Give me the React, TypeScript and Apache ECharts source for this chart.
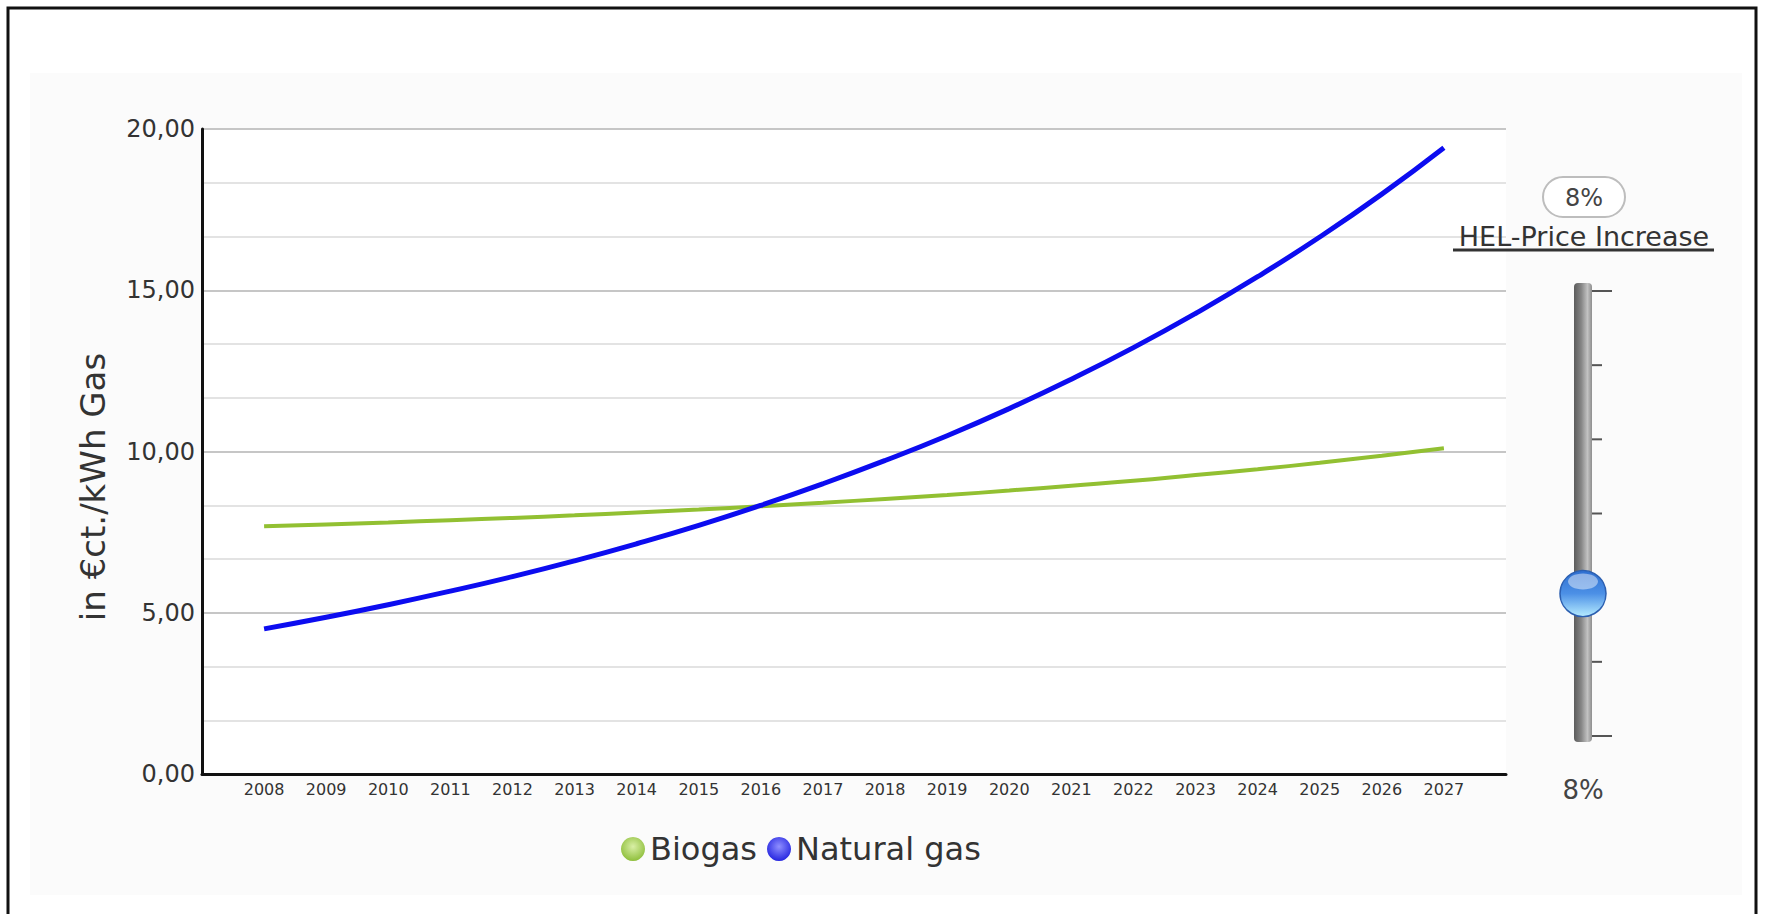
import React, { useEffect, useRef } from "react";
import * as echarts from "echarts";

// Years shown on the x axis
const years = [2008, 2009, 2010, 2011, 2012, 2013, 2014, 2015, 2016, 2017, 2018, 2019, 2020, 2021, 2022, 2023, 2024, 2025, 2026, 2027];

// Price in €ct. per kWh of gas
const biogas = [7.68, 7.74, 7.8, 7.87, 7.94, 8.02, 8.11, 8.2, 8.3, 8.41, 8.53, 8.65, 8.79, 8.94, 9.09, 9.27, 9.45, 9.65, 9.87, 10.1];
const naturalGas = [4.5, 4.86, 5.25, 5.67, 6.12, 6.61, 7.14, 7.71, 8.33, 9.0, 9.72, 10.49, 11.33, 12.24, 13.22, 14.28, 15.42, 16.65, 17.98, 19.42];

const seriesNames = ["Biogas", "Natural gas"];

// Price-increase slider
const priceIncrease = 8; // percent
const sliderMax = 25;
const sliderTickCount = 7;

const FONT = "DejaVu Sans";

export default function App() {
  const ref = useRef<HTMLDivElement>(null);

  useEffect(() => {
    document.body.style.margin = "0";
    const chart = echarts.init(ref.current!, null, { renderer: "svg" });

    // slider geometry
    const trackX = 1574;
    const trackW = 18;
    const trackTop = 283;
    const trackBottom = 742;
    const tickTop = 291;
    const tickBottom = 736;
    const knobX = trackX + trackW / 2;
    const knobY = tickBottom - (priceIncrease / sliderMax) * (tickBottom - tickTop);

    const ticks: any[] = [];
    for (let i = 0; i < sliderTickCount; i++) {
      const y = tickTop + (i * (tickBottom - tickTop)) / (sliderTickCount - 1);
      const long = i === 0 || i === sliderTickCount - 1;
      ticks.push({
        type: "line",
        shape: { x1: trackX + trackW, y1: y, x2: trackX + trackW + (long ? 20 : 10), y2: y },
        style: { stroke: "#555", lineWidth: 2 },
        z: 5,
      });
    }

    const pct = `${priceIncrease}%`;

    chart.setOption({
      animation: false,
      backgroundColor: "#ffffff",
      grid: {
        left: 202,
        top: 129,
        width: 1304,
        height: 645,
        show: true,
        backgroundColor: "#ffffff",
        borderWidth: 0,
      },
      legend: {
        left: 616,
        top: 828,
        itemWidth: 24,
        itemHeight: 26,
        itemGap: 10,
        icon: "circle",
        textStyle: { fontFamily: FONT, fontSize: 32, color: "#333" },
        data: [
          {
            name: seriesNames[0],
            itemStyle: {
              color: {
                type: "radial", x: 0.5, y: 0.4, r: 0.6,
                colorStops: [
                  { offset: 0, color: "#d9efa6" },
                  { offset: 1, color: "#8fbf3c" },
                ],
              },
            },
          },
          {
            name: seriesNames[1],
            itemStyle: {
              color: {
                type: "radial", x: 0.5, y: 0.4, r: 0.6,
                colorStops: [
                  { offset: 0, color: "#8f8fff" },
                  { offset: 1, color: "#2626e0" },
                ],
              },
            },
          },
        ],
      },
      xAxis: {
        type: "value",
        min: 2007,
        max: 2028,
        interval: 1,
        axisLine: { show: true, lineStyle: { color: "#111", width: 3 } },
        axisTick: { show: false },
        splitLine: { show: false },
        axisLabel: {
          fontFamily: FONT,
          fontSize: 16,
          color: "#333",
          margin: 7,
          formatter: (v: number) => (years.includes(v) ? String(v) : ""),
        },
      },
      yAxis: {
        type: "value",
        min: 0,
        max: 20,
        interval: 5,
        axisLine: { show: true, lineStyle: { color: "#111", width: 3 } },
        axisTick: { show: false },
        axisLabel: {
          fontFamily: FONT,
          fontSize: 24,
          color: "#333",
          margin: 7,
          formatter: (v: number) => v.toFixed(2).replace(".", ","),
        },
        splitLine: { show: true, lineStyle: { color: "#c6c6c6", width: 2 } },
        minorTick: { show: false, splitNumber: 3 },
        minorSplitLine: { show: true, lineStyle: { color: "#e3e3e3", width: 2 } },
      },
      series: [
        {
          name: seriesNames[0],
          type: "line",
          smooth: true,
          showSymbol: false,
          color: "#8fbf3c",
          lineStyle: { color: "#92c032", width: 4 },
          data: years.map((y, i) => [y, biogas[i]]),
          z: 3,
        },
        {
          name: seriesNames[1],
          type: "line",
          smooth: true,
          showSymbol: false,
          color: "#2626e0",
          lineStyle: { color: "#0c0cf0", width: 5 },
          data: years.map((y, i) => [y, naturalGas[i]]),
          z: 4,
        },
      ],
      graphic: [
        // light panel behind the chart
        {
          type: "rect",
          z: -10,
          silent: true,
          shape: { x: 30, y: 73, width: 1712, height: 822 },
          style: { fill: "#fbfbfb" },
        },
        // outer frame
        {
          type: "rect",
          z: 10,
          silent: true,
          shape: { x: 8, y: 8, width: 1748, height: 930 },
          style: { fill: "none", stroke: "#111", lineWidth: 3 },
        },
        // y axis title
        {
          type: "text",
          x: 93,
          y: 487,
          rotation: Math.PI / 2,
          style: {
            text: "in €ct./kWh Gas",
            fontFamily: FONT,
            fontSize: 34,
            fill: "#333",
            align: "center",
            verticalAlign: "middle",
          },
        },
        // value bubble
        {
          type: "rect",
          shape: { x: 1543, y: 177, width: 82, height: 40, r: 20 },
          style: { fill: "#ffffff", stroke: "#bdbdbd", lineWidth: 2 },
          z: 5,
        },
        {
          type: "text",
          x: 1584,
          y: 198,
          style: {
            text: pct,
            fontFamily: FONT,
            fontSize: 24,
            fill: "#444",
            align: "center",
            verticalAlign: "middle",
          },
          z: 6,
        },
        // slider caption
        {
          type: "text",
          x: 1584,
          y: 236,
          style: {
            text: "HEL-Price Increase",
            fontFamily: FONT,
            fontSize: 27,
            fill: "#333",
            align: "center",
            verticalAlign: "middle",
          },
          z: 6,
        },
        {
          type: "line",
          shape: { x1: 1453, y1: 250, x2: 1714, y2: 250 },
          style: { stroke: "#333", lineWidth: 3 },
          z: 6,
        },
        // slider track
        {
          type: "rect",
          shape: { x: trackX, y: trackTop, width: trackW, height: trackBottom - trackTop, r: 4 },
          style: {
            fill: {
              type: "linear", x: 0, y: 0, x2: 1, y2: 0,
              colorStops: [
                { offset: 0, color: "#5c5c5c" },
                { offset: 0.4, color: "#858585" },
                { offset: 0.75, color: "#c2c2c2" },
                { offset: 1, color: "#8e8e8e" },
              ],
            },
          },
          z: 5,
        },
        ...ticks,
        // slider knob
        {
          type: "circle",
          shape: { cx: knobX, cy: knobY, r: 23 },
          style: {
            fill: {
              type: "linear", x: 0, y: 0, x2: 0, y2: 1,
              colorStops: [
                { offset: 0, color: "#2f6fd0" },
                { offset: 0.5, color: "#4c90e6" },
                { offset: 1, color: "#b6ecff" },
              ],
            },
            stroke: "#2c5fb0",
            lineWidth: 1.5,
          },
          z: 7,
        },
        {
          type: "ellipse",
          shape: { cx: knobX, cy: knobY - 12, rx: 15, ry: 8 },
          style: { fill: "rgba(255,255,255,0.45)" },
          z: 8,
        },
        // slider value
        {
          type: "text",
          x: knobX,
          y: 790,
          style: {
            text: pct,
            fontFamily: FONT,
            fontSize: 26,
            fill: "#444",
            align: "center",
            verticalAlign: "middle",
          },
          z: 6,
        },
      ],
    });

    return () => chart.dispose();
  }, []);

  return <div ref={ref} style={{ width: 1765, height: 914 }} />;
}
